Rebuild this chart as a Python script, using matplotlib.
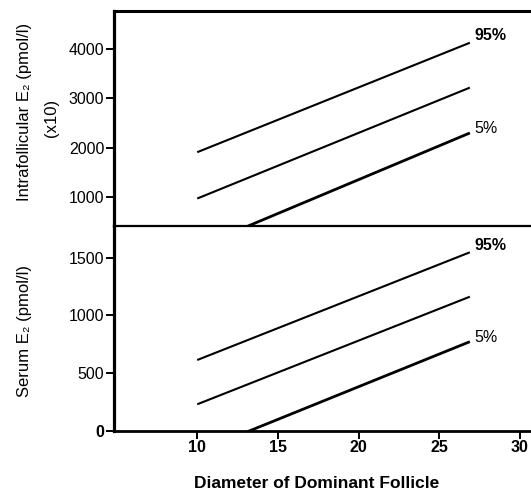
"""
Percentile lines of oestradiol against diameter of the dominant follicle.
"""

import matplotlib

matplotlib.use("Agg")
import matplotlib.pyplot as plt

plt.rcParams["font.family"] = ["Liberation Sans", "DejaVu Sans"]

# follicle diameter (mm) at the two ends of each line
diameter = [10, 26.9]

# intrafollicular E2 (pmol/l, x10)
intra_p95 = [1910, 4130]
intra_p50 = [970, 3220]
intra_p5 = [-20, 2300]

# serum E2 (pmol/l)
serum_p95 = [613, 1547]
serum_p50 = [229, 1162]
serum_p5 = [-185, 772]

intra_ticks = [1000, 2000, 3000, 4000]
serum_ticks = [0, 500, 1000, 1500]
x_ticks = [10, 15, 20, 25, 30]

W, H = 531, 495
fig = plt.figure(figsize=(W / 100, H / 100), dpi=100)

left = 114 / W
ax_top = fig.add_axes([left, 1 - 226 / H, 1 - left, (226 - 11) / H])
ax_bot = fig.add_axes([left, 1 - 430.7 / H, 1 - left, (430.7 - 226) / H])

for ax in (ax_top, ax_bot):
    ax.patch.set_visible(False)
    ax.set_xlim(4.84, 30.69)
    ax.spines["right"].set_visible(False)
    ax.spines["left"].set_linewidth(2.3)
    ax.tick_params(axis="y", direction="out", length=6, width=1.4, pad=1,
                   labelsize=11.5)

ax_top.set_ylim(413, 4774)
ax_top.spines["top"].set_linewidth(2.2)
ax_top.spines["bottom"].set_linewidth(1.6)
ax_top.set_xticks([])
ax_top.set_yticks(intra_ticks)

ax_bot.set_ylim(0, 1775)
ax_bot.spines["top"].set_visible(False)
ax_bot.spines["bottom"].set_linewidth(2.0)
ax_bot.set_yticks(serum_ticks)
ax_bot.set_xticks(x_ticks)
ax_bot.tick_params(axis="x", direction="out", length=6, width=1.4, pad=1,
                   labelsize=11.5)
for label in ax_bot.get_xticklabels():
    label.set_fontweight("bold")
ax_bot.get_yticklabels()[0].set_fontweight("bold")


def draw_panel(ax, p95, p50, p5, up95, up5):
    ax.plot(diameter, p95, color="black", lw=1.5, solid_capstyle="butt")
    ax.plot(diameter, p50, color="black", lw=1.5, solid_capstyle="butt")
    ax.plot(diameter, p5, color="black", lw=2.0, solid_capstyle="butt")
    ax.annotate("95%", (diameter[1], p95[1]), xytext=(3.3, up95),
                textcoords="offset points", ha="left", va="center",
                fontsize=11.5, fontweight="bold")
    ax.annotate("5%", (diameter[1], p5[1]), xytext=(3.3, up5),
                textcoords="offset points", ha="left", va="center",
                fontsize=11.5)


draw_panel(ax_top, intra_p95, intra_p50, intra_p5, 5, 3.2)
draw_panel(ax_bot, serum_p95, serum_p50, serum_p5, 4.7, 3.2)

fig.text(24.5 / W, 1 - 112 / H, "Intrafollicular E\u2082 (pmol/l)",
         rotation=90, ha="center", va="center", fontsize=12)
fig.text(52 / W, 1 - 118 / H, "(x10)",
         rotation=90, ha="center", va="center", fontsize=12)
fig.text(24.5 / W, 1 - 331 / H, "Serum E\u2082 (pmol/l)",
         rotation=90, ha="center", va="center", fontsize=12)
fig.text(317 / W, 1 - 484 / H, "Diameter of Dominant Follicle",
         ha="center", va="center", fontsize=12.5, fontweight="bold")

fig.savefig("out.png", dpi=100)
plt.close(fig)
